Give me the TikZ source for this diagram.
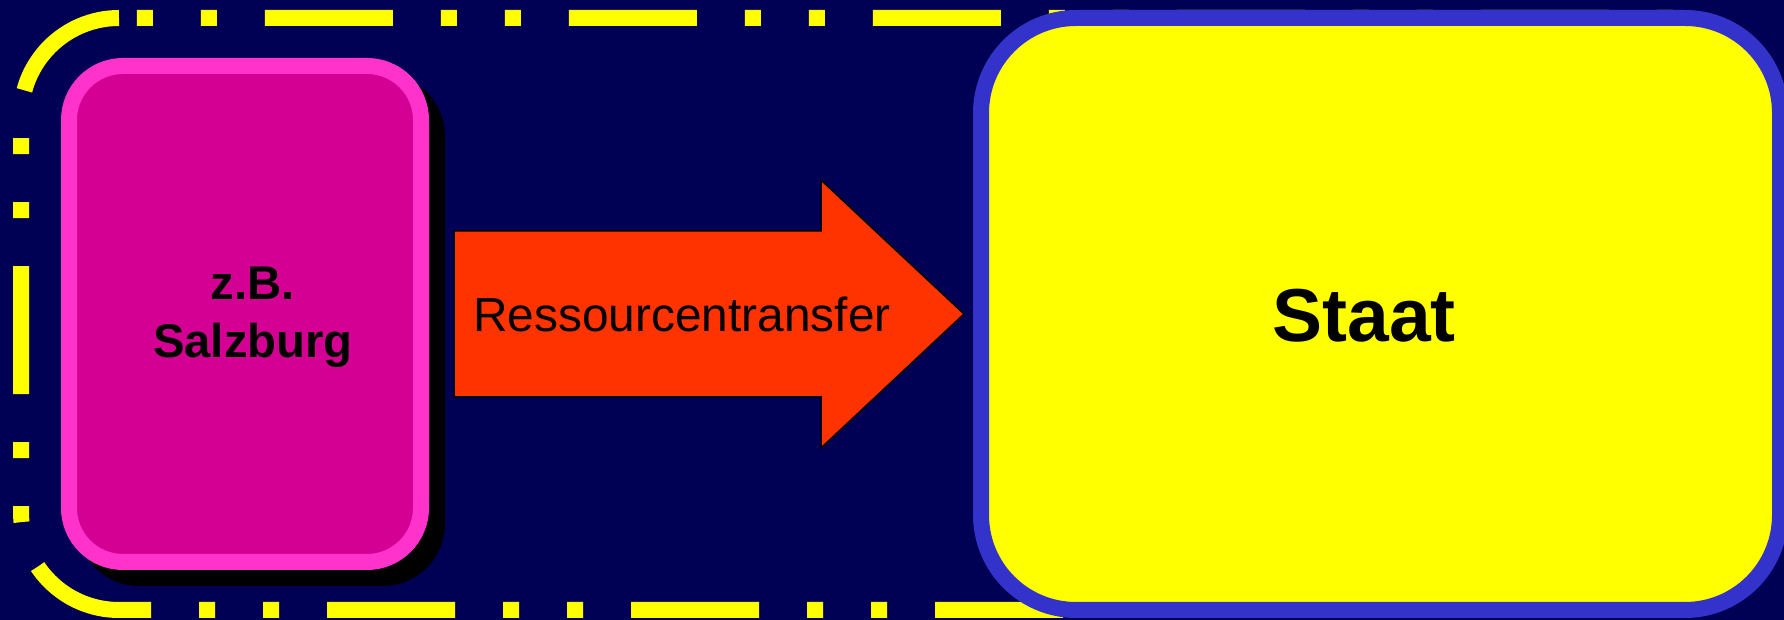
\documentclass[tikz,border=0pt]{standalone}
\usepackage{fontspec}
\setmainfont{Liberation Sans}
\definecolor{bgnavy}{RGB}{0,0,85}
\definecolor{dashyellow}{RGB}{255,255,0}
\definecolor{pinkline}{RGB}{255,51,204}
\definecolor{pinkfill}{RGB}{212,0,147}
\definecolor{arrowred}{RGB}{255,51,0}
\definecolor{staatline}{RGB}{51,51,204}
\definecolor{staatfill}{RGB}{255,255,0}
\tikzset{
  borderline/.style={dashyellow, line width=16pt, line cap=butt,
    dash pattern=on 128pt off 48pt on 16pt off 48pt on 16pt off 48pt},
  salzbox/.style={rectangle, rounded corners=54pt, draw=pinkline, fill=pinkfill,
    line width=16pt, minimum width=352pt, minimum height=496pt, inner sep=0pt},
  shadowbox/.style={rectangle, rounded corners=54pt, draw=black, fill=black,
    line width=16pt, minimum width=352pt, minimum height=496pt, inner sep=0pt},
  staatbox/.style={rectangle, rounded corners=95pt, draw=staatline, fill=staatfill,
    line width=16pt, minimum width=799pt, minimum height=592pt, inner sep=0pt},
  blockarrow/.style={fill=arrowred, draw=black, line width=1.5pt, line join=miter},
  boldtxt/.style={font=\bfseries\fontsize{47.3}{56}\selectfont, inner sep=0pt, anchor=base, text=black},
  arrowtxt/.style={font=\fontsize{47.8}{58}\selectfont, inner sep=0pt, anchor=base, text=black},
  staattxt/.style={font=\bfseries\fontsize{75}{90}\selectfont, inner sep=0pt, anchor=base, text=black}
}
\begin{document}
\begin{tikzpicture}[x=1pt,y=1pt]
\useasboundingbox (0,0) rectangle (1784,620);
\fill[bgnavy] (0,0) rectangle (1784,620);
% dashed yellow frame
\draw[borderline] (119,602) arc[start angle=90,end angle=180,radius=98pt]
  -- (21,108) arc[start angle=180,end angle=270,radius=98pt]
  -- (1680,10) arc[start angle=270,end angle=360,radius=98pt]
  -- (1778,504) arc[start angle=0,end angle=90,radius=98pt]
  -- cycle;
% Salzburg box with shadow
\node[shadowbox] (salzshadow) at (261,290) {};
\node[salzbox] (salz) at (245,306) {};
\node[boldtxt] (zb) at (253,320) {z.B.};
\node[boldtxt] (salzname) at (253,262) {Salzburg};
% block arrow
\draw[blockarrow] (454,389) -- (821,389) -- (821,440) -- (964,306)
  -- (821,172) -- (821,223) -- (454,223) -- cycle;
\node[arrowtxt] (transfer) at (682,288) {Ressourcentransfer};
% Staat box
\node[staatbox] (staat) at (1380.5,306) {};
\node[staattxt] (staatname) at (1364,278) {Staat};
\end{tikzpicture}
\end{document}
